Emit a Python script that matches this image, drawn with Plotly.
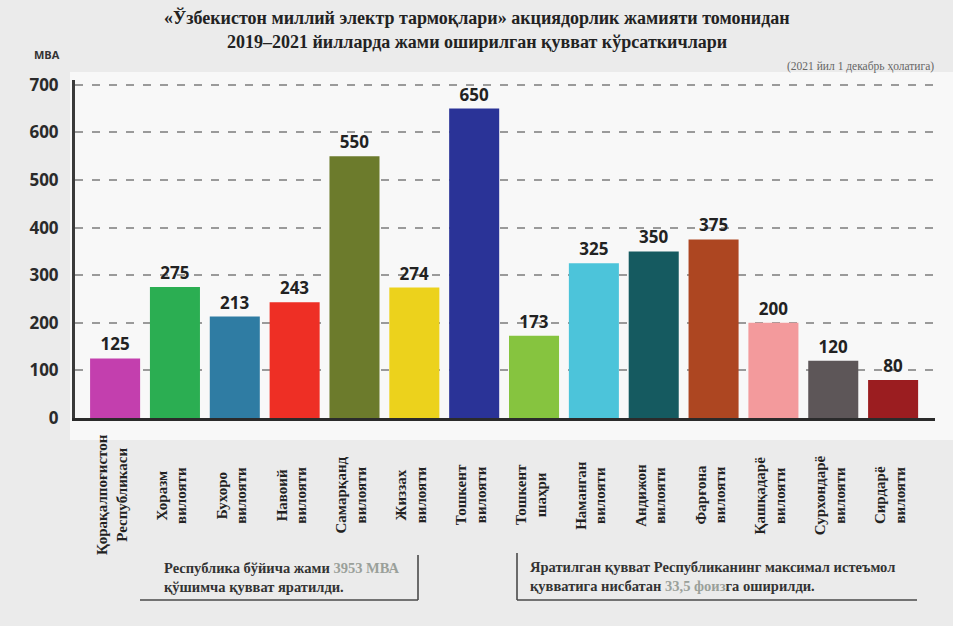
import plotly.graph_objects as go

categories = [
    "Қорақалпоғистон<br>Республикаси",
    "Хоразм<br>вилояти",
    "Бухоро<br>вилояти",
    "Навоий<br>вилояти",
    "Самарқанд<br>вилояти",
    "Жиззах<br>вилояти",
    "Тошкент<br>вилояти",
    "Тошкент<br>шаҳри",
    "Наманган<br>вилояти",
    "Андижон<br>вилояти",
    "Фарғона<br>вилояти",
    "Қашқадарё<br>вилояти",
    "Сурхондарё<br>вилояти",
    "Сирдарё<br>вилояти",
]
values = [125, 275, 213, 243, 550, 274, 650, 173, 325, 350, 375, 200, 120, 80]
colors = ["#c33fae", "#2bae52", "#2f7ca3", "#ee2f25", "#6c7b2c", "#ecd21c", "#2a3397",
          "#86c43f", "#4cc4da", "#155a60", "#ad4621", "#f39a9c", "#5d5658", "#9b1d20"]
y_ticks = [0, 100, 200, 300, 400, 500, 600, 700]

title_line1 = "«Ўзбекистон миллий электр тармоқлари» акциядорлик жамияти томонидан"
title_line2 = "2019–2021 йилларда жами оширилган қувват кўрсаткичлари"
subtitle = "(2021 йил 1 декабрь ҳолатига)"
unit = "МВА"
note_left = "Республика бўйича жами <span style='color:#9aa09a'>3953 МВА</span><br>қўшимча қувват яратилди."
note_right = ("Яратилган қувват Республиканинг максимал истеъмол<br>"
              "қувватига нисбатан <span style='color:#9aa09a'>33,5 фоиз</span>га оширилди.")

OFF = 0
W, H = 953, 626
L, R, T, B = 75, 18, 80, 208
pw, ph = W - L - R, H - T - B


def px(x):
    return (x - OFF - L) / pw


def py(y):
    return (H - B - (y - OFF)) / ph


fig = go.Figure()
fig.add_trace(go.Bar(
    x=categories, y=values,
    marker=dict(color=colors, line=dict(width=0)),
    text=[str(v) for v in values], textposition="outside",
    textfont=dict(family="Open Sans", size=17, color="#222222", weight="bold"),
    cliponaxis=False, showlegend=False,
))

serif = "'Liberation Serif', 'Times New Roman', serif"
ann = []
for c in categories:
    ann.append(dict(x=c, xref="x", y=py(495), yref="paper", text=c, textangle=-90,
                    showarrow=False, xanchor="center", yanchor="middle", xshift=-3,
                    font=dict(family=serif, size=15, color="#222222", weight="bold"),
                    align="center"))

ann += [
    dict(x=px(477), xref="paper", y=py(17), yref="paper", text=title_line1, showarrow=False,
         xanchor="center", yanchor="middle",
         font=dict(family=serif, size=18, color="#222222", weight="bold")),
    dict(x=px(477), xref="paper", y=py(42), yref="paper", text=title_line2, showarrow=False,
         xanchor="center", yanchor="middle",
         font=dict(family=serif, size=18, color="#222222", weight="bold")),
    dict(x=px(860), xref="paper", y=py(67), yref="paper", text=subtitle, showarrow=False,
         xanchor="center", yanchor="middle",
         font=dict(family=serif, size=11.5, color="#666666")),
    dict(x=px(47), xref="paper", y=py(55), yref="paper", text=unit, showarrow=False,
         xanchor="center", yanchor="middle",
         font=dict(family="Open Sans", size=11, color="#333333", weight="bold")),
    dict(x=px(162), xref="paper", y=py(577), yref="paper", text=note_left, showarrow=False,
         xanchor="left", yanchor="middle", align="left",
         font=dict(family=serif, size=14.5, color="#333333", weight="bold")),
    dict(x=px(528), xref="paper", y=py(576), yref="paper", text=note_right, showarrow=False,
         xanchor="left", yanchor="middle", align="left",
         font=dict(family=serif, size=14.5, color="#333333", weight="bold")),
]

line_style = dict(color="#4a4a4a", width=1.6)
shapes = [
    dict(type="rect", xref="paper", yref="paper", x0=px(70), x1=px(953), y0=py(440), y1=py(72),
         fillcolor="#f8f8f8", line=dict(width=0), layer="below"),
    dict(type="line", xref="paper", yref="paper", x0=px(418), x1=px(418), y0=py(555), y1=py(600), line=line_style),
    dict(type="line", xref="paper", yref="paper", x0=px(140), x1=px(418), y0=py(600), y1=py(600), line=line_style),
    dict(type="line", xref="paper", yref="paper", x0=px(517), x1=px(517), y0=py(553), y1=py(600), line=line_style),
    dict(type="line", xref="paper", yref="paper", x0=px(517), x1=px(917), y0=py(600), y1=py(600), line=line_style),
]

fig.update_layout(
    width=W, height=H,
    margin=dict(l=L, r=R, t=T, b=B, pad=0),
    paper_bgcolor="#ebebeb", plot_bgcolor="rgba(0,0,0,0)",
    bargap=0.164,
    annotations=ann, shapes=shapes,
    xaxis=dict(range=[-0.67, 13.7], showticklabels=False, showgrid=False, ticks="",
               showline=True, linecolor="#2b2b2b", linewidth=3, zeroline=False, fixedrange=True),
    yaxis=dict(range=[0, 710], tickvals=y_ticks, ticktext=[str(t) for t in y_ticks],
               showgrid=True, gridcolor="#9a9a9a", gridwidth=1.5, griddash="8px,9px",
               showline=True, linecolor="#3a3a3a", linewidth=3, zeroline=False,
               ticks="", ticklabelstandoff=10,
               tickfont=dict(family="Open Sans", size=17, color="#2a2a2a", weight="bold"),
               fixedrange=True),
)

fig.write_html("out.html", config={"displayModeBar": False},
               post_script="document.body.style.margin='0px';document.body.style.overflow='hidden';")
